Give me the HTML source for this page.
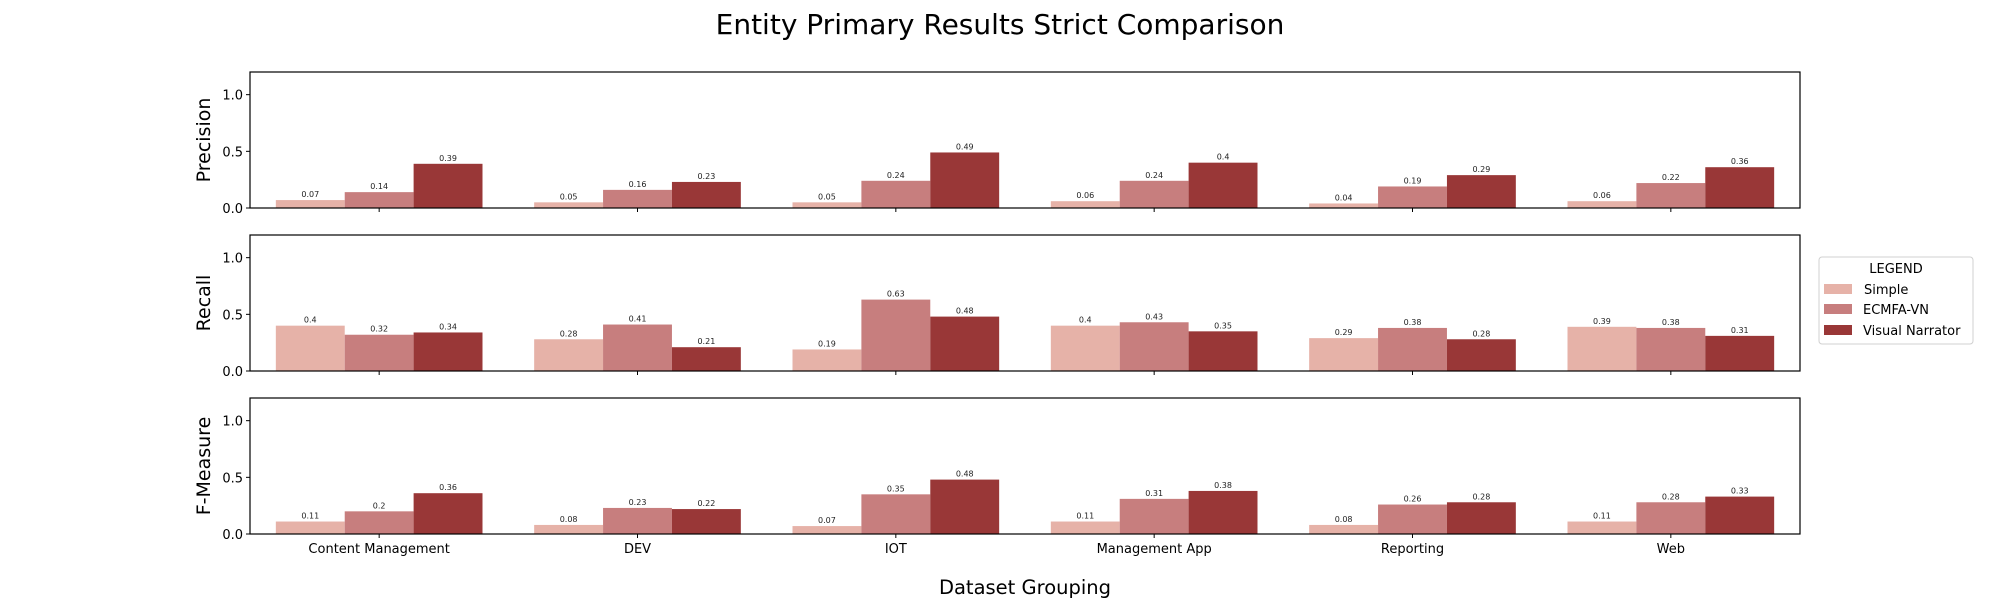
<!DOCTYPE html>
<html><head><meta charset="utf-8"><style>
html,body{margin:0;padding:0;background:#fff;}
svg{display:block;font-family:"DejaVu Sans","Liberation Sans",sans-serif;}
</style></head><body>
<svg id="chart" width="2000" height="600" viewBox="0 0 2000 600" xmlns="http://www.w3.org/2000/svg">
<text x="1000" y="34" font-size="28" text-anchor="middle" fill="#000">Entity Primary Results Strict Comparison</text>
<text x="1025" y="594" font-size="19.5" text-anchor="middle" fill="#000">Dataset Grouping</text>
<g id="panels"></g>
<g>
<rect x="1819" y="257" width="154" height="87" rx="3" fill="#fff" stroke="#d0d0d0" stroke-width="1"/>
<text x="1896" y="273" font-size="13" text-anchor="middle">LEGEND</text>
<g><rect x="1824" y="284" width="28" height="10" fill="#e6b2a8"/><text x="1864" y="294" font-size="13">Simple</text></g>
<g><rect x="1824" y="304" width="28" height="10" fill="#c77e7e"/><text x="1863" y="314" font-size="13">ECMFA-VN</text></g>
<g><rect x="1824" y="325" width="28" height="10" fill="#993737"/><text x="1863" y="335" font-size="13">Visual Narrator</text></g>
</g>
</svg>
<script>
const categories = ["Content Management","DEV","IOT","Management App","Reporting","Web"];
const seriesNames = ["Simple","ECMFA-VN","Visual Narrator"];
const precisionSimple = [0.07,0.05,0.05,0.06,0.04,0.06];
const precisionEcmfa = [0.14,0.16,0.24,0.24,0.19,0.22];
const precisionVN = [0.39,0.23,0.49,0.4,0.29,0.36];
const recallSimple = [0.4,0.28,0.19,0.4,0.29,0.39];
const recallEcmfa = [0.32,0.41,0.63,0.43,0.38,0.38];
const recallVN = [0.34,0.21,0.48,0.35,0.28,0.31];
const fSimple = [0.11,0.08,0.07,0.11,0.08,0.11];
const fEcmfa = [0.2,0.23,0.35,0.31,0.26,0.28];
const fVN = [0.36,0.22,0.48,0.38,0.28,0.33];
const yTicks = [0.0,0.5,1.0];
const yTickLabels = ["0.0","0.5","1.0"];
const metricNames = ["Precision","Recall","F-Measure"];

const colors = ["#e6b2a8","#c77e7e","#993737"];
const panels = [
  {top:72,bottom:208,data:[precisionSimple,precisionEcmfa,precisionVN]},
  {top:235,bottom:371,data:[recallSimple,recallEcmfa,recallVN]},
  {top:398,bottom:534,data:[fSimple,fEcmfa,fVN]}
];
const L=250,R=1800,YMAX=1.2;
const NS="http://www.w3.org/2000/svg";
const root=document.getElementById('panels');
function mk(tag,attrs,parent,text){const e=document.createElementNS(NS,tag);for(const k in attrs)e.setAttribute(k,attrs[k]);if(text!==undefined)e.textContent=text;parent.appendChild(e);return e;}
const step=(R-L)/categories.length;
function xC(i){return L+step*(i+0.5);}
panels.forEach((p,pi)=>{
  const y=v=>p.bottom-(v/YMAX)*(p.bottom-p.top);
  const g=mk('g',{},root);
  
  
  const bw=step*0.8/3;
  p.data.forEach((arr,si)=>{
    arr.forEach((v,ci)=>{
      const x=xC(ci)-step*0.4+si*bw;
      const r=mk('rect',{x:x,y:y(v),width:bw,height:p.bottom-y(v),fill:colors[si]},g);
      
      
      const t=mk('text',{x:x+bw/2,y:y(v)-3,'font-size':8,'text-anchor':'middle',fill:'#222'},g,String(v));
      
      
    });
  });
  const fr=mk('rect',{x:L,y:p.top,width:R-L,height:p.bottom-p.top,fill:'none',stroke:'#000','stroke-width':1.2},g);
  
  
  yTicks.forEach((v,ti)=>{
    mk('line',{x1:L-4,x2:L,y1:y(v),y2:y(v),stroke:'#000'},g);
    const t=mk('text',{x:L-7,y:y(v)+5,'font-size':13,'text-anchor':'end'},g,yTickLabels[ti]);
    
    
  });
  categories.forEach((c,ci)=>{
    mk('line',{x1:xC(ci),x2:xC(ci),y1:p.bottom,y2:p.bottom+4,stroke:'#000'},g);
    if(pi===2){
      const t=mk('text',{x:xC(ci),y:p.bottom+19,'font-size':13,'text-anchor':'middle'},g,c);
      
      
    }
  });
  const cy=(p.top+p.bottom)/2;
  const yl=mk('text',{x:210,y:cy,'font-size':19,'text-anchor':'middle',transform:'rotate(-90 210 '+cy+')'},g,metricNames[pi]);
  
  
});
</script>
</body></html>
